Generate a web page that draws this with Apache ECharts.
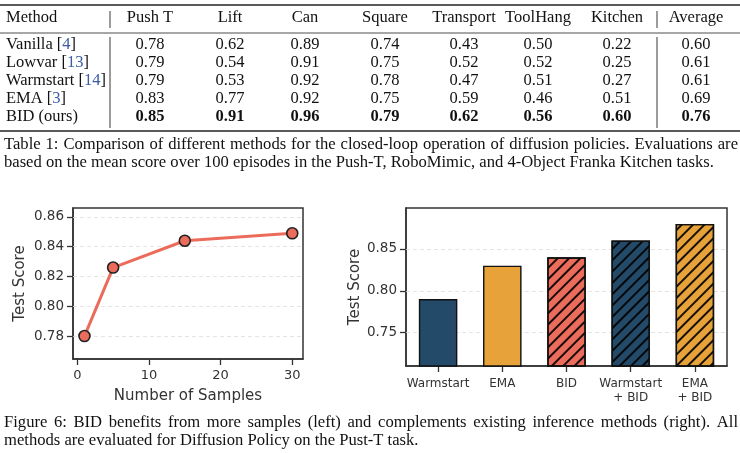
<!DOCTYPE html>
<html><head><meta charset="utf-8">
<script src="https://cdn.jsdelivr.net/npm/echarts@6/dist/echarts.min.js"></script>
<style>html,body{margin:0;padding:0;background:#fff}#c{width:740px;height:453px}</style>
</head><body><div id="c"></div>
<script>
// ---------- data ----------
const tasks = ['Push T','Lift','Can','Square','Transport','ToolHang','Kitchen'];
const methods = ['Vanilla','Lowvar','Warmstart','EMA','BID (ours)'];
const cites = ['4','13','14','3',''];
const vanilla = [0.78,0.62,0.89,0.74,0.43,0.50,0.22];
const lowvar = [0.79,0.54,0.91,0.75,0.52,0.52,0.25];
const warmstart = [0.79,0.53,0.92,0.78,0.47,0.51,0.27];
const ema = [0.83,0.77,0.92,0.75,0.59,0.46,0.51];
const bid = [0.85,0.91,0.96,0.79,0.62,0.56,0.60];
const averages = [0.60,0.61,0.61,0.69,0.76];

const sampleCounts = [1,5,15,30];
const sampleScores = [0.780,0.826,0.844,0.849];
const leftXTicks = [0,10,20,30];
const leftYTicks = [0.78,0.80,0.82,0.84,0.86];

const barCategories = ['Warmstart','EMA','BID','Warmstart\n+ BID','EMA\n+ BID'];
const barScores = [0.79,0.83,0.84,0.86,0.88];
const rightYTicks = [0.75,0.80,0.85];

const tableCaption = ['Table 1: Comparison of different methods for the closed-loop operation of diffusion policies. Evaluations are',
  'based on the mean score over 100 episodes in the Push-T, RoboMimic, and 4-Object Franka Kitchen tasks.'];
const figCaption = ['Figure 6: BID benefits from more samples (left) and complements existing inference methods (right). All',
  'methods are evaluated for Diffusion Policy on the Pust-T task.'];

// ---------- layout / style ----------
const SERIF = '"Liberation Serif", "Times New Roman", serif';
const SANS = '"DejaVu Sans", sans-serif';
const BLUE = '#234a68', ORANGE = '#e8a23a', SALMON = '#ec6c5c';
const INK = '#333333';
const colX = [150,230,305,385,464,538,617];
const avgX = 696;
const rowY = [45,63,81,99,117];

const mctx = document.createElement('canvas').getContext('2d');
function txt(text, x, y, font, align, fill, extra) {
  return Object.assign({type:'text', silent:true, style:Object.assign({text, x, y, font, fill: fill||'#111',
    textAlign: align||'left', align: align||'left', textVerticalAlign:'middle', verticalAlign:'middle'}, extra||{})});
}
function justified(line, x0, x1, y, font) {
  mctx.font = font;
  const words = line.split(' ').filter(w=>w.length);
  const widths = words.map(w => mctx.measureText(w).width);
  const total = widths.reduce((a,b)=>a+b,0);
  const gap = (x1 - x0 - total)/(words.length-1);
  let x = x0; const els = [];
  words.forEach((w,i)=>{ els.push(txt(w, x, y, font, 'left')); x += widths[i]+gap; });
  return els;
}
function hline(x1,x2,y,w){return {type:'line',silent:true,shape:{x1,y1:y,x2,y2:y},style:{stroke:'#222',lineWidth:w}};}
function vline(x,y1,y2){return {type:'line',silent:true,shape:{x1:x,y1,x2:x,y2},style:{stroke:'#222',lineWidth:0.9}};}

const graphics = [];
const F = '16.5px ' + SERIF, FB = 'bold 16.5px ' + SERIF, FC = '16.6px ' + SERIF;
graphics.push(hline(0,740,5,1.6), hline(0,740,33,0.8), hline(0,740,131,1.6));
graphics.push(vline(110,11,28), vline(110,37,128), vline(657,11,28), vline(657,37,128));
graphics.push(txt('Method', 6, 18, F, 'left'));
tasks.forEach((t,i)=>graphics.push(txt(t, colX[i], 18, F, 'center')));
graphics.push(txt('Average', avgX, 18, F, 'center'));
const rows = [vanilla, lowvar, warmstart, ema, bid];
methods.forEach((m,r)=>{
  const label = cites[r] ? m + ' [{c|' + cites[r] + '}]' : m;
  graphics.push(txt(label, 6, rowY[r], F, 'left', '#111', {rich:{c:{fill:'#3b5ba5', color:'#3b5ba5', font:F}}}));
  const f = r === 4 ? FB : F;
  rows[r].forEach((v,i)=>graphics.push(txt(v.toFixed(2), colX[i], rowY[r], f, 'center')));
  graphics.push(txt(averages[r].toFixed(2), avgX, rowY[r], f, 'center'));
});
graphics.push(...justified(tableCaption[0], 4, 738, 145, FC));
graphics.push(txt(tableCaption[1], 4, 163, FC, 'left'));
graphics.push(...justified(figCaption[0], 4, 738, 423, FC));
graphics.push(txt(figCaption[1], 4, 441, FC, 'left'));

// ---------- chart ----------
const axisCommon = {
  axisLine:{show:true, onZero:false, lineStyle:{color:INK, width:1.5}},
  axisTick:{show:true, length:6, lineStyle:{color:INK, width:1.3}},
  splitLine:{show:false},
  axisLabel:{color:INK, fontFamily:SANS, fontSize:13},
  nameTextStyle:{color:INK, fontFamily:SANS, fontSize:15}
};
function deep(o, extra){ return echarts.util.merge(echarts.util.clone(o), extra, true); }
const hatch = {symbol:'rect', symbolSize:1, color:'rgba(0,0,0,0.9)', dashArrayX:[1,0], dashArrayY:[1.2,5.9], rotation:-Math.PI/4};
const barColors = [BLUE, ORANGE, SALMON, BLUE, ORANGE];
const barHatched = [false,false,true,true,true];
const gridLine = {color:'#dddddd', width:0.8, type:[4,3]};

const option = {
  animation:false,
  graphic: graphics,
  grid:[
    {left:73, top:208, width:230, height:151, show:true, borderColor:INK, borderWidth:1.5},
    {left:406, top:208, width:321, height:158, show:true, borderColor:INK, borderWidth:1.5}
  ],
  xAxis:[
    deep(axisCommon, {gridIndex:0, type:'value', min:-0.6, max:31.5,
      name:'Number of Samples', nameLocation:'middle', nameGap:30,
      axisLabel:{customValues:leftXTicks, margin:10}, axisTick:{customValues:leftXTicks}}),
    deep(axisCommon, {gridIndex:1, type:'category', data:barCategories,
      axisTick:{alignWithLabel:true}, axisLabel:{fontSize:12, lineHeight:14, margin:11, interval:0}})
  ],
  yAxis:[
    deep(axisCommon, {gridIndex:0, type:'value', min:0.7646, max:0.866,
      name:'Test Score', nameLocation:'middle', nameGap:45,
      axisLabel:{customValues:leftYTicks, margin:9, fontSize:13.5, formatter:v=>v.toFixed(2)}, axisTick:{customValues:leftYTicks}}),
    deep(axisCommon, {gridIndex:1, type:'value', min:0.71, max:0.899,
      name:'Test Score', nameLocation:'middle', nameGap:42,
      axisLabel:{customValues:rightYTicks, margin:9, fontSize:13.5, formatter:v=>v.toFixed(2)}, axisTick:{customValues:rightYTicks}})
  ],
  series:[
    {type:'line', xAxisIndex:0, yAxisIndex:0, data:sampleCounts.map((x,i)=>[x, sampleScores[i]]),
      lineStyle:{color:SALMON, width:3}, symbol:'circle', symbolSize:11,
      itemStyle:{color:SALMON, borderColor:'#222', borderWidth:1.6}, z:5,
      markLine:{silent:true, symbol:'none', label:{show:false}, lineStyle:gridLine, z:1,
        data:leftYTicks.map(v=>({yAxis:v}))}},
    {type:'bar', xAxisIndex:1, yAxisIndex:1, barWidth:'60%', z:5,
      data:barScores.map((v,i)=>({value:v, itemStyle:{color:barColors[i], borderColor:'#111', borderWidth:1.4,
        decal: barHatched[i] ? hatch : null}})),
      markLine:{silent:true, symbol:'none', label:{show:false}, lineStyle:gridLine, z:1,
        data:rightYTicks.map(v=>({yAxis:v}))}}
  ]
};
const chart = echarts.init(document.getElementById('c'), null, {renderer:'canvas'});
chart.setOption(option);
</script></body></html>
